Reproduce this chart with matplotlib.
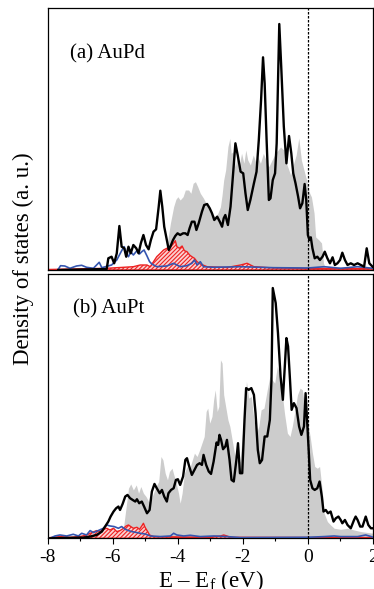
import numpy as np
import matplotlib
matplotlib.use("Agg")
import matplotlib.pyplot as plt

plt.rcParams['font.family'] = 'Liberation Serif'
plt.rcParams['mathtext.fontset'] = 'custom'
plt.rcParams['mathtext.rm'] = 'Liberation Serif'
plt.rcParams['axes.unicode_minus'] = False
plt.rcParams['hatch.linewidth'] = 0.8

# ---------------- (a) AuPd ----------------
a_tot_e = [-7.68, -6.19, -6.14, -6.04, -5.96, -5.88, -5.80, -5.73, -5.65, -5.59, -5.52, -5.45, -5.37,
           -5.28, -5.21, -5.14, -5.06, -4.98, -4.90, -4.83, -4.75, -4.67, -4.59, -4.54, -4.48, -4.42,
           -4.34, -4.28, -4.21, -4.15, -4.08, -4.01, -3.93, -3.84, -3.77, -3.70, -3.64, -3.57, -3.49,
           -3.43, -3.36, -3.26, -3.19, -3.10, -3.02, -2.95, -2.88, -2.79, -2.71, -2.64, -2.59, -2.54,
           -2.46, -2.38, -2.30, -2.23, -2.16, -2.07, -1.99, -1.92, -1.85, -1.77, -1.66, -1.58, -1.51,
           -1.44, -1.38, -1.33, -1.27, -1.20, -1.15, -1.08, -1.01, -0.96, -0.92, -0.88, -0.82, -0.74,
           -0.66, -0.58, -0.51, -0.45, -0.38, -0.30, -0.24, -0.17, -0.10, -0.05, 0.00, 0.05, 0.09,
           0.14, 0.21, 0.29, 0.37, 0.45, 0.52, 0.60, 0.68, 0.76, 0.83, 0.91, 0.99, 1.06, 1.14, 1.22,
           1.32, 1.42, 1.53, 1.63, 1.73, 1.81, 1.89, 1.99]
a_tot = [0, 1, 11.7, 13.3, 6.7, 16.7, 44, 23.3, 21.7, 13.3, 23.3, 16.7, 25,
         21.7, 16.7, 26.7, 35, 25, 20.7, 30, 38.3, 40.7, 63.3, 79.3, 63.3, 43.3,
         30, 20, 25, 30, 34, 36.7, 35, 36.7, 36.7, 35, 41.7, 48.3, 48.3,
         40, 46.7, 58.3, 65, 66, 61.7, 56.7, 50, 53.3, 48.3, 43.3, 51.7, 55,
         45, 63.3, 96.7, 126.7, 115, 98.3, 96.7, 76.7, 60, 70, 86.7, 98.3, 130,
         170, 212.7, 186.7, 130, 70, 71.7, 90, 96.7, 126.7, 186.7, 246, 203.3, 143.3,
         106.7, 134, 116.7, 96.7, 86.7, 73.3, 61.7, 66.7, 86, 70, 35, 30, 32.7,
         21.7, 11.7, 13.3, 10, 13.3, 18.3, 11.7, 6.7, 12.7, 5, 6.7, 10, 17.3, 10, 5,
         6.7, 5, 6.7, 5, 3.3, 21.7, 6.7, 3.3]

a_bulk_e = [-4.55, -4.42, -4.34, -4.23, -4.13, -4.06, -4.00, -3.93, -3.84, -3.77, -3.67, -3.60, -3.53,
            -3.46, -3.39, -3.31, -3.21, -3.08, -2.95, -2.85, -2.77, -2.69, -2.64, -2.59, -2.53, -2.46,
            -2.40, -2.36, -2.30, -2.23, -2.18, -2.12, -2.04, -1.97, -1.91, -1.85, -1.77, -1.68, -1.61,
            -1.54, -1.46, -1.37, -1.29, -1.20, -1.10, -0.99, -0.84, -0.74, -0.64, -0.53, -0.45, -0.36,
            -0.28, -0.20, -0.12, -0.04, 0.04, 0.11, 0.19, 0.24, 0.34, 0.42, 0.48, 0.55, 2.0]
a_bulk = [0, 0, 23.3, 46.7, 63.3, 70.7, 73.3, 70, 73.3, 80, 80, 76.7, 86.7,
          88.3, 83.3, 76.7, 71.7, 63.3, 56.7, 53.3, 56.7, 63.3, 75, 90, 100, 123.3,
          131.7, 116.7, 118.3, 103.3, 113.3, 103.3, 116.7, 106.7, 120, 110, 105, 115, 108.3,
          113.3, 106.7, 116.7, 110, 103.3, 110, 117, 123, 120, 105, 95, 105, 115,
          132, 110, 100, 90, 78, 73, 57, 33, 30, 27, 7, 0, 0]

a_red_e = [-8.0, -6.19, -5.37, -5.16, -4.95, -4.85, -4.75, -4.65, -4.54, -4.44, -4.34, -4.23, -4.13,
           -4.08, -4.03, -3.95, -3.87, -3.80, -3.72, -3.64, -3.57, -3.49, -3.41, -3.31, -3.10, -2.49,
           -2.07, -1.87, -1.66, -1.05, 0.0, 1.0, 2.0]
a_red = [0.5, 1.7, 3.3, 5, 5, 3.3, 8.3, 13.3, 16.7, 20, 21.7, 22.7, 26.7,
         29.3, 23.3, 21.7, 24, 19.3, 18.3, 15, 13.3, 11.7, 8.3, 6, 3.3, 2.5,
         5, 6.7, 3.3, 2, 1.5, 1.5, 1.5]

a_blue_e = [-7.68, -7.61, -7.48, -7.32, -7.12, -6.96, -6.81, -6.60, -6.42, -6.34, -6.04, -5.88, -5.73,
            -5.65, -5.59, -5.52, -5.45, -5.37, -5.26, -5.18, -5.11, -5.04, -4.95, -4.87, -4.80, -4.65,
            -4.34, -4.13, -3.93, -3.72, -3.57, -3.49, -3.41, -3.31, -3.21, -2.90, -2.07, -1.05, 0.0,
            0.50, 1.01, 1.53, 1.99]
a_blue = [0.7, 4.3, 4, 1.7, 4, 4.7, 2.7, 1.7, 7.7, 2.3, 5, 10, 19.3,
          23.3, 16.7, 13.3, 18.3, 15, 19.3, 16, 18.3, 20, 14, 8.3, 6, 3.3,
          4, 6.7, 3.3, 4.3, 6.7, 10, 5, 8.3, 3.3, 2.7, 3.3, 2.3, 2,
          3.3, 1.7, 3.3, 1.7]

# ---------------- (b) AuPt ----------------
b_tot_e = [-7.94, -6.91, -6.70, -6.50, -6.34, -6.24, -6.14, -6.07, -5.98, -5.90, -5.83, -5.78, -5.70,
           -5.62, -5.55, -5.47, -5.39, -5.31, -5.26, -5.19, -5.11, -5.04, -4.95, -4.87, -4.80, -4.72,
           -4.65, -4.56, -4.49, -4.42, -4.34, -4.29, -4.21, -4.13, -4.06, -4.00, -3.93, -3.84, -3.77,
           -3.72, -3.65, -3.57, -3.49, -3.41, -3.33, -3.26, -3.21, -3.13, -3.05, -2.98, -2.90, -2.81,
           -2.76, -2.72, -2.67, -2.61, -2.54, -2.49, -2.41, -2.35, -2.28, -2.20, -2.15, -2.09, -2.02,
           -1.95, -1.90, -1.82, -1.74, -1.66, -1.61, -1.54, -1.48, -1.41, -1.33, -1.25, -1.17, -1.12,
           -1.08, -0.99, -0.92, -0.84, -0.77, -0.71, -0.66, -0.61, -0.55, -0.50, -0.43, -0.35, -0.27,
           -0.20, -0.12, -0.07, -0.02, 0.03, 0.07, 0.14, 0.21, 0.29, 0.36, 0.43, 0.48, 0.55, 0.62,
           0.70, 0.79, 0.86, 0.94, 1.01, 1.06, 1.14, 1.22, 1.32, 1.42, 1.47, 1.53, 1.61, 1.68, 1.78,
           1.86, 1.94, 2.02]
b_tot = [0, 0.7, 1.7, 3.3, 6.7, 11.7, 16.7, 21.7, 26.7, 30, 31.7, 28.3, 34.3,
         41.7, 43.3, 40, 38.3, 36.7, 39, 35, 36.7, 31.7, 25, 28.3, 46.7, 54.3,
         50, 45, 48.3, 41.7, 36.7, 45, 48.3, 50, 58.3, 59, 53.3, 61.7, 78.3,
         80, 71.7, 63.3, 68.3, 73.3, 75, 73.3, 83.3, 73.3, 66.7, 64.3, 76.7, 95.7,
         93.3, 103.3, 98.3, 89, 91.7, 98.3, 78.3, 58.3, 56.7, 78.3, 95, 65, 65,
         118.3, 150, 148.3, 150, 143.3, 125, 88.3, 75, 78.3, 101.7, 101.7, 118.3, 158.3,
         250, 235, 205, 161.7, 138.3, 171.7, 200, 191.7, 158.3, 128.3, 135, 130, 111.7,
         103.3, 111.7, 145, 115, 85, 58.3, 50, 48.3, 50, 56.7, 41.7, 26.7, 28.3, 25,
         26.7, 16.7, 20, 21.7, 18.3, 15, 18.3, 13.3, 10, 18.3, 21.7, 18.3, 11.7, 11.7, 21.7,
         13.3, 10, 10]

b_bulk_e = [-7.0, -5.88, -5.78, -5.67, -5.59, -5.52, -5.45, -5.37, -5.28, -5.21, -5.14, -5.06, -4.98,
            -4.90, -4.83, -4.75, -4.67, -4.59, -4.52, -4.46, -4.39, -4.32, -4.26, -4.18, -4.11, -4.05,
            -3.98, -3.93, -3.87, -3.80, -3.72, -3.65, -3.57, -3.49, -3.41, -3.33, -3.26, -3.19, -3.13,
            -3.08, -3.02, -2.95, -2.90, -2.85, -2.79, -2.74, -2.69, -2.64, -2.59, -2.53, -2.46, -2.40,
            -2.33, -2.26, -2.18, -2.09, -2.02, -1.95, -1.89, -1.82, -1.74, -1.66, -1.58, -1.51, -1.44,
            -1.35, -1.25, -1.17, -1.10, -1.02, -0.94, -0.86, -0.79, -0.72, -0.63, -0.55, -0.48, -0.41,
            -0.32, -0.24, -0.17, -0.10, -0.02, 0.07, 0.14, 0.21, 0.29, 0.36, 0.44, 0.50, 0.60, 0.70,
            0.81, 1.01, 1.22, 1.42, 1.63, 2.02]
b_bulk = [0, 0, 1.7, 11.7, 31.7, 50, 54.3, 48.3, 53.3, 45, 51.7, 45, 41.7,
          36.7, 38.3, 45, 51.7, 56.7, 81.7, 78.3, 65, 58.3, 66.7, 70, 61.7, 55,
          45, 35, 45, 65, 71.7, 68.3, 76.7, 85, 81.7, 88.3, 95, 101.7, 126.7,
          130, 115, 121.7, 138.3, 148.3, 126.7, 131.7, 178.3, 175, 143.3, 131.7, 118.3, 111.7,
          98.3, 85, 78.3, 76.7, 101.7, 128.3, 156.7, 140, 141.7, 118.3, 105, 111.7, 128.3,
          130, 148.3, 161.7, 158.3, 155, 171.7, 163.3, 145, 125, 105, 101.7, 111.7, 125,
          143.3, 150, 148.3, 131.7, 118.3, 101.7, 85, 71.7, 70, 71.7, 48.3, 25, 16.7, 13.3,
          10, 9, 10, 8.3, 6.7, 5]

b_red_e = [-7.94, -7.63, -7.32, -7.01, -6.81, -6.65, -6.50, -6.40, -6.29, -6.19, -6.09, -5.98, -5.88,
           -5.78, -5.67, -5.59, -5.52, -5.45, -5.37, -5.26, -5.18, -5.11, -5.06, -5.01, -4.93, -4.87,
           -4.75, -3.10, -2.69, -2.59, -2.49, -2.38, 1.99]
b_red = [0.7, 1.7, 1, 1.7, 3.3, 5.7, 7.7, 6.7, 9, 10, 8.3, 10, 6.7,
         7.7, 10, 12.3, 13.3, 11.7, 10, 11, 9, 12.3, 15, 11, 6.7, 3.3,
         1.7, 1, 2.3, 3.3, 2.3, 1, 0.7]

b_blue_e = [-7.94, -7.78, -7.63, -7.42, -7.22, -7.06, -6.96, -6.81, -6.70, -6.60, -6.45, -6.29, -6.19,
            -6.09, -5.96, -5.83, -5.73, -5.62, -5.52, -5.42, -5.26, -5.16, -5.01, -4.85, -4.54, -4.23,
            -4.13, -4.03, -3.82, -3.62, -3.31, -2.90, -2.49, -2.07, 0.0, 0.50, 0.81, 1.01, 1.53, 1.78,
            2.02]
b_blue = [0, 2.3, 3.3, 2.3, 4, 2.3, 5, 3.3, 7.7, 5.7, 7.7, 10, 13.3,
          12.3, 11.7, 10, 11.7, 9, 7.7, 6.7, 5.7, 5, 4.3, 2.3, 1.7, 2.3,
          5, 3.3, 2.3, 3, 1.7, 2.3, 1.7, 0.7, 1, 1.7, 2.3, 1.7, 1.7, 3.3,
          1]

panels = [
    ("(a) AuPd", a_tot_e, a_tot, a_bulk_e, a_bulk, a_red_e, a_red, a_blue_e, a_blue),
    ("(b) AuPt", b_tot_e, b_tot, b_bulk_e, b_bulk, b_red_e, b_red, b_blue_e, b_blue),
]
label_pos = [(0.068, 0.808), (0.077, 0.852)]

fig = plt.figure(figsize=(3.74, 5.89), dpi=100)
ax_top = fig.add_axes([0.128, 0.5416, 0.869, 0.4448])
ax_bot = fig.add_axes([0.128, 0.0861, 0.869, 0.4487])

for ax, (label, te, tv, ge, gv, re, rv, be, bv), (lx, ly) in zip([ax_top, ax_bot], panels, label_pos):
    ax.fill_between(ge, gv, 0, color="#cccccc", lw=0, zorder=1)
    ax.fill_between(re, rv, 0, facecolor="#fbd0d0", edgecolor="#ee2222",
                    hatch="////////", lw=1.0, zorder=2)
    ax.plot(be, bv, color="#3556b0", lw=1.2, zorder=3)
    ax.plot(te, tv, color="black", lw=1.7, zorder=4)
    ax.axvline(0, color="black", ls=(0, (2, 1.2)), lw=0.9, zorder=5)
    ax.set_xlim(-8, 2)
    ax.set_yticks([])
    ax.text(lx, ly, label, transform=ax.transAxes, fontsize=15, va="baseline")
    for s in ax.spines.values():
        s.set_linewidth(0.9)

ax_top.set_ylim(0, 262)
ax_bot.set_ylim(0, 264)
ax_top.set_xticks([])
ax_bot.set_xticks([-8, -6, -4, -2, 0, 2])
ax_bot.set_xticks(np.arange(-8, 3, 1), minor=True)
ax_bot.tick_params(axis="x", direction="out", length=4, width=0.8, labelsize=14, pad=4)
ax_bot.tick_params(axis="x", which="minor", direction="out", length=2.5, width=0.8)
ax_bot.set_xlabel(r"E – E$_\mathregular{f}$ (eV)", fontsize=16.5, labelpad=1)

fig.text(0.062, 0.56, "Density of states (a. u.)", rotation=90, fontsize=16.5,
         ha="center", va="center")

fig.savefig("out.png", dpi=100)
